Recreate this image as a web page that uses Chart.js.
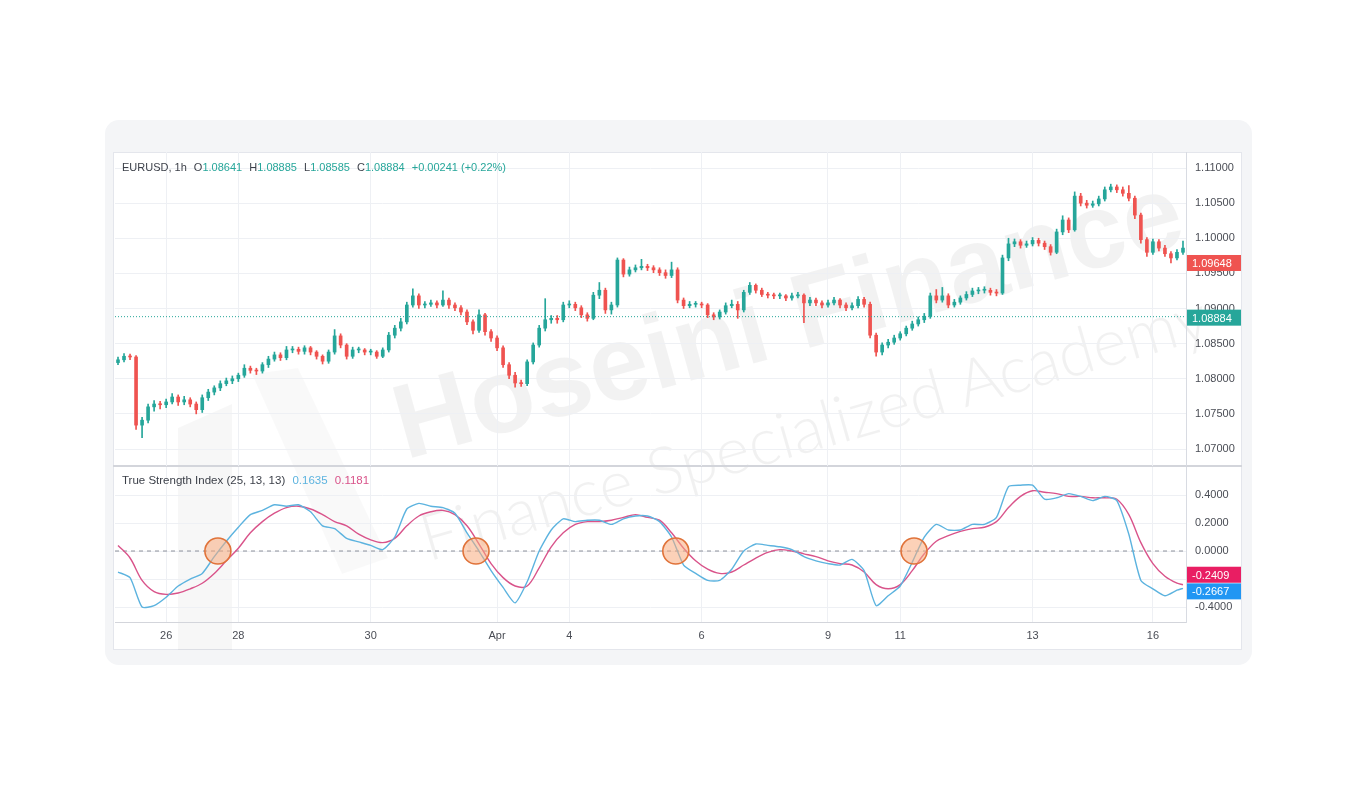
<!DOCTYPE html>
<html>
<head>
<meta charset="utf-8">
<script src="https://cdn.jsdelivr.net/npm/chart.js@4.4.0/dist/chart.umd.min.js"></script>
<style>
  body { margin:0; background:#fff; width:1357px; height:785px; position:relative; overflow:hidden;
         font-family:"Liberation Sans", Arial, sans-serif; }
  #frame { position:absolute; left:105px; top:120px; width:1147px; height:545px; background:#f4f5f7; border-radius:14px; }
  #panel { position:absolute; left:113px; top:152px; width:1129px; height:498px; background:#fff;
           border:1px solid #e4e6ec; box-sizing:border-box; }
  #wm { position:absolute; left:0; top:0; width:1357px; height:785px; pointer-events:none; }
  #wm div { position:absolute; white-space:nowrap; transform-origin:left bottom; }
  .wm1 { left:412px; top:362px; font-size:106px; font-weight:bold; color:rgba(0,0,0,0.05); transform:rotate(-15.5deg); }
  .wm2 { left:432px; top:497px; font-size:65px; font-family:Lato, "Open Sans", sans-serif; font-weight:300;
         color:rgba(0,0,0,0.055); transform:rotate(-16deg); }
  #logo { position:absolute; left:0; top:0; }
  .wrap { position:absolute; left:113px; width:1129px; }
  #priceWrap { top:152px; height:314px; }
  #tsiWrap { top:467px; height:183px; }
  #sep { position:absolute; left:113px; top:465px; width:1129px; height:2px; background:#d3d5db; }
  .legend { position:absolute; left:122px; color:#3b3f48; white-space:nowrap; }
  .legend .v { color:#26a69a; }
  .legend .gap { margin-left:4px; }
</style>
</head>
<body>
<div id="frame"></div>
<div id="panel"></div>
<div id="wm">
  <svg id="logo" width="1357" height="785">
    <path d="M178 428 L232 404 L232 650 L178 650 Z" fill="rgba(0,0,0,0.03)"/>
    <path d="M252 374 L298 368 L388 558 L342 574 Z" fill="rgba(0,0,0,0.025)"/>
  </svg>
  <div class="wm1">Hoseini Finance</div>
  <div class="wm2">Finance Specialized Academy</div>
</div>
<div id="sep"></div>
<div class="wrap" id="priceWrap"><canvas id="priceChart"></canvas></div>
<div class="wrap" id="tsiWrap"><canvas id="tsiChart"></canvas></div>
<div class="legend" style="top:161px; font-size:11px">EURUSD, 1h <span class="gap">O</span><span class="v">1.08641</span> <span class="gap">H</span><span class="v">1.08885</span> <span class="gap">L</span><span class="v">1.08585</span> <span class="gap">C</span><span class="v">1.08884</span> <span class="v gap">+0.00241 (+0.22%)</span></div>
<div class="legend" style="top:474px; font-size:11.5px">True Strength Index (25, 13, 13) <span class="gap" style="color:#5cb3df">0.1635</span> <span class="gap" style="color:#d9538a">0.1181</span></div>

<script>
// EURUSD 1h, one candle per slot
const firstOpen = 1.0823;
const closes = [
  1.0827,1.0832,1.0831,1.0734,1.0741,1.0760,1.0764,1.0763,1.0767,1.0774,
  1.0767,1.0770,1.0764,1.0756,1.0773,1.0781,1.0787,1.0793,1.0797,1.0800,
  1.0805,1.0815,1.0812,1.0811,1.0820,1.0828,1.0834,1.0830,1.0841,1.0842,
  1.0839,1.0844,1.0838,1.0832,1.0825,1.0838,1.0861,1.0848,1.0832,1.0841,
  1.0841,1.0838,1.0838,1.0832,1.0841,1.0862,1.0872,1.0881,1.0905,1.0918,
  1.0905,1.0906,1.0908,1.0905,1.0912,1.0905,1.0901,1.0895,1.0881,1.0869,
  1.0891,1.0867,1.0858,1.0844,1.0820,1.0805,1.0794,1.0793,1.0824,1.0848,
  1.0872,1.0884,1.0886,1.0884,1.0905,1.0906,1.0901,1.0891,1.0886,1.0919,
  1.0926,1.0898,1.0905,1.0969,1.0949,1.0955,1.0958,1.0960,1.0958,1.0955,
  1.0951,1.0947,1.0955,1.0912,1.0904,1.0906,1.0906,1.0905,1.0891,1.0888,
  1.0895,1.0904,1.0906,1.0898,1.0923,1.0933,1.0926,1.0920,1.0919,1.0918,
  1.0918,1.0915,1.0918,1.0919,1.0908,1.0912,1.0908,1.0905,1.0908,1.0912,
  1.0905,1.0901,1.0904,1.0913,1.0906,1.0862,1.0838,1.0848,1.0852,1.0858,
  1.0864,1.0872,1.0878,1.0884,1.0889,1.0918,1.0912,1.0918,1.0905,1.0909,
  1.0915,1.0920,1.0925,1.0926,1.0926,1.0923,1.0922,1.0972,1.0992,1.0995,
  1.0990,1.0992,1.0997,1.0993,1.0988,1.0980,1.1009,1.1026,1.1012,1.1060,
  1.1050,1.1047,1.1049,1.1056,1.1069,1.1073,1.1069,1.1064,1.1057,1.1033,
  1.0998,1.0980,1.0995,1.0986,1.0978,1.0972,1.0980,1.0986
];
const highs = [
  1.0831,1.0836,1.0835,1.0833,1.0745,1.0764,1.0769,1.0768,1.0771,1.0779,
  1.0777,1.0775,1.0773,1.0767,1.0777,1.0785,1.0790,1.0797,1.0801,1.0804,
  1.0808,1.0820,1.0818,1.0815,1.0823,1.0832,1.0838,1.0837,1.0846,1.0846,
  1.0845,1.0847,1.0846,1.0840,1.0834,1.0841,1.0870,1.0864,1.0850,1.0845,
  1.0845,1.0843,1.0842,1.0840,1.0844,1.0866,1.0876,1.0886,1.0909,1.0928,
  1.0921,1.0910,1.0912,1.0911,1.0925,1.0915,1.0908,1.0904,1.0898,1.0884,
  1.0898,1.0893,1.0870,1.0861,1.0847,1.0823,1.0809,1.0798,1.0827,1.0851,
  1.0876,1.0914,1.0890,1.0890,1.0909,1.0911,1.0909,1.0904,1.0894,1.0923,
  1.0937,1.0929,1.0909,1.0972,1.0971,1.0959,1.0962,1.0970,1.0963,1.0961,
  1.0958,1.0955,1.0966,1.0958,1.0915,1.0910,1.0910,1.0909,1.0907,1.0894,
  1.0898,1.0908,1.0912,1.0910,1.0926,1.0937,1.0935,1.0929,1.0923,1.0922,
  1.0922,1.0920,1.0922,1.0923,1.0921,1.0916,1.0915,1.0911,1.0912,1.0916,
  1.0914,1.0908,1.0908,1.0917,1.0916,1.0909,1.0865,1.0851,1.0856,1.0862,
  1.0867,1.0875,1.0882,1.0888,1.0893,1.0922,1.0927,1.0930,1.0921,1.0913,
  1.0918,1.0924,1.0929,1.0930,1.0931,1.0929,1.0927,1.0976,1.1000,1.0999,
  1.0998,1.0996,1.1001,1.1000,1.0996,1.0991,1.1013,1.1032,1.1029,1.1066,
  1.1064,1.1054,1.1053,1.1060,1.1073,1.1077,1.1076,1.1073,1.1075,1.1060,
  1.1036,1.1001,1.0999,1.0998,1.0990,1.0981,1.0984,1.0996
];
const lows = [
  1.0820,1.0824,1.0827,1.0728,1.0716,1.0737,1.0754,1.0757,1.0759,1.0764,
  1.0762,1.0763,1.0760,1.0750,1.0752,1.0769,1.0777,1.0783,1.0790,1.0793,
  1.0796,1.0802,1.0808,1.0806,1.0808,1.0816,1.0825,1.0826,1.0827,1.0837,
  1.0835,1.0835,1.0834,1.0828,1.0821,1.0822,1.0835,1.0844,1.0828,1.0829,
  1.0837,1.0834,1.0834,1.0829,1.0830,1.0838,1.0858,1.0868,1.0878,1.0902,
  1.0900,1.0901,1.0903,1.0901,1.0903,1.0900,1.0897,1.0891,1.0877,1.0864,
  1.0866,1.0862,1.0853,1.0840,1.0816,1.0800,1.0788,1.0789,1.0790,1.0821,
  1.0845,1.0868,1.0879,1.0879,1.0881,1.0901,1.0897,1.0887,1.0882,1.0884,
  1.0914,1.0893,1.0892,1.0902,1.0945,1.0946,1.0952,1.0955,1.0954,1.0951,
  1.0947,1.0943,1.0944,1.0908,1.0900,1.0901,1.0902,1.0901,1.0887,1.0884,
  1.0885,1.0892,1.0901,1.0886,1.0895,1.0920,1.0922,1.0917,1.0915,1.0914,
  1.0914,1.0911,1.0912,1.0915,1.0880,1.0904,1.0904,1.0901,1.0902,1.0905,
  1.0901,1.0897,1.0898,1.0901,1.0902,1.0858,1.0832,1.0834,1.0844,1.0849,
  1.0855,1.0861,1.0869,1.0875,1.0880,1.0886,1.0908,1.0909,1.0901,1.0902,
  1.0906,1.0912,1.0917,1.0921,1.0922,1.0919,1.0918,1.0920,1.0968,1.0988,
  1.0986,1.0987,1.0989,1.0989,1.0984,1.0976,1.0978,1.1005,1.1008,1.1010,
  1.1046,1.1043,1.1044,1.1046,1.1053,1.1066,1.1065,1.1060,1.1053,1.1028,
  1.0993,1.0974,1.0977,1.0982,1.0974,1.0965,1.0969,1.0977
];

// day labels on the time axis (candle slot where each day starts)
const dayTicks  = [8, 20, 42, 63, 75, 97, 118, 130, 152, 172];
const dayLabels = ['26', '28', '30', 'Apr', '4', '6', '9', '11', '13', '16'];
const priceTicks = [1.07, 1.075, 1.08, 1.085, 1.09, 1.095, 1.10, 1.105, 1.11];
const tsiTicks = [-0.4, -0.2, 0, 0.2, 0.4];

// True Strength Index (25,13,13), one reading every second candle, last one at the final candle
const tsiLine = [
  -0.15,-0.19,-0.40,-0.39,-0.33,-0.25,-0.20,-0.16,-0.04,0.07,
  0.17,0.26,0.29,0.33,0.32,0.33,0.28,0.18,0.16,0.09,
  0.065,0.04,0.01,0.10,0.30,0.34,0.32,0.31,0.27,0.13,
  0.00,-0.14,-0.26,-0.37,-0.22,0.00,0.15,0.23,0.21,0.22,
  0.22,0.19,0.23,0.25,0.25,0.21,0.10,-0.10,-0.16,-0.21,
  -0.21,-0.13,0.00,0.05,0.04,0.03,0.01,-0.04,-0.07,-0.09,
  -0.10,-0.06,-0.14,-0.39,-0.32,-0.25,-0.08,0.10,0.19,0.15,
  0.15,0.19,0.19,0.24,0.46,0.47,0.47,0.37,0.38,0.41,
  0.39,0.36,0.39,0.36,0.12,-0.21,-0.27,-0.32,-0.28,-0.2667
];
const tsiSignal = [
  0.04,-0.05,-0.21,-0.29,-0.31,-0.30,-0.27,-0.23,-0.16,-0.07,
  0.02,0.13,0.21,0.27,0.31,0.32,0.30,0.26,0.21,0.18,
  0.12,0.08,0.06,0.09,0.18,0.25,0.28,0.29,0.26,0.18,
  0.05,-0.09,-0.19,-0.25,-0.25,-0.12,0.03,0.13,0.19,0.21,
  0.21,0.22,0.24,0.26,0.24,0.22,0.13,0.02,-0.07,-0.13,
  -0.16,-0.15,-0.10,-0.05,-0.01,0.01,0.00,-0.02,-0.04,-0.07,
  -0.09,-0.10,-0.15,-0.24,-0.27,-0.24,-0.14,-0.02,0.07,0.11,
  0.14,0.16,0.17,0.21,0.31,0.39,0.43,0.42,0.41,0.39,
  0.39,0.38,0.38,0.37,0.26,0.06,-0.09,-0.18,-0.23,-0.2409
];
// zero-line crossings marked with circles (candle slot)
const crossX = [16.6, 59.5, 92.7, 132.3];

const lastPrice = 1.09648;
const markPrice = 1.08884;

const upColor = '#26a69a';
const downColor = '#ef5350';
const FONT = '"Liberation Sans", Arial, sans-serif';
const gridColor = '#eef0f4';
const lastSlot = closes.length - 1;

const opens = closes.map((c, i) => i === 0 ? firstOpen : closes[i - 1]);
const candleColors = closes.map((c, i) => c >= opens[i] ? upColor : downColor);
const tsiSlots = tsiLine.map((v, k) => Math.min(k * 2, lastSlot));

function tagPlugin(id, tags) {
  return {
    id: id,
    afterDraw(chart) {
      const { ctx, chartArea, scales } = chart;
      ctx.save();
      ctx.font = '11px ' + FONT;
      ctx.textBaseline = 'middle';
      tags.forEach(t => {
        const y = scales.y.getPixelForValue(t.value) + (t.dy || 0);
        ctx.fillStyle = t.color;
        ctx.fillRect(chartArea.right + 1, y - 8, 54, 16);
        ctx.fillStyle = '#fff';
        ctx.fillText(t.text, chartArea.right + 6, y + 1);
      });
      ctx.restore();
    }
  };
}

// keep the plot area edge to edge: no label overhang padding
const noPad = s => { s.paddingTop = 0; s.paddingBottom = 0; s.paddingLeft = 0; s.paddingRight = 0; };

const xBase = {
  type: 'linear',
  min: -0.5,
  max: lastSlot + 0.5,
  offset: false,
  afterBuildTicks: s => { s.ticks = dayTicks.map(v => ({ value: v })); },
  grid: { color: gridColor, drawTicks: false, offset: false },
};

const yBase = {
  position: 'right',
  grid: { color: gridColor, drawTicks: false },
  border: { color: '#d8dbe2' },
  afterFit: s => { s.width = 56; noPad(s); }
};

const baseOptions = {
  responsive: true,
  maintainAspectRatio: false,
  animation: false,
  layout: { autoPadding: false, padding: { left: 2, right: 0, top: 0, bottom: 0 } },
  plugins: { legend: { display: false }, tooltip: { enabled: false } },
};

new Chart(document.getElementById('priceChart'), {
  type: 'bar',
  data: {
    datasets: [
      {
        label: 'wick',
        data: closes.map((c, i) => ({ x: i, y: [lows[i], highs[i]] })),
        backgroundColor: candleColors,
        barThickness: 1,
        grouped: false,
        order: 2
      },
      {
        label: 'body',
        data: closes.map((c, i) => ({ x: i, y: [opens[i], c] })),
        backgroundColor: candleColors,
        barThickness: 3,
        minBarLength: 1,
        grouped: false,
        order: 1
      },
      {
        type: 'line',
        label: 'mark',
        data: [{ x: -0.5, y: markPrice }, { x: lastSlot + 0.5, y: markPrice }],
        borderColor: upColor,
        borderWidth: 1,
        borderDash: [1, 2],
        pointRadius: 0,
        order: 0
      }
    ]
  },
  options: {
    ...baseOptions,
    scales: {
      x: {
        ...xBase,
        ticks: { display: false },
        border: { display: false },
        afterFit: s => { s.height = 0; noPad(s); }
      },
      y: {
        ...yBase,
        min: 1.06758,
        max: 1.11228,
        afterBuildTicks: s => { s.ticks = priceTicks.map(v => ({ value: v })); },
        ticks: { callback: v => v.toFixed(5), color: '#4a4d55', font: { size: 11, family: FONT }, padding: 9 }
      }
    }
  },
  plugins: [tagPlugin('priceTags', [
    { value: lastPrice, text: lastPrice.toFixed(5), color: downColor },
    { value: markPrice, text: markPrice.toFixed(5), color: upColor, dy: 1 }
  ])]
});

new Chart(document.getElementById('tsiChart'), {
  type: 'line',
  data: {
    datasets: [
      {
        label: 'zero',
        data: [{ x: -0.5, y: 0 }, { x: lastSlot + 0.5, y: 0 }],
        borderColor: '#8d919b',
        borderWidth: 1,
        borderDash: [4, 4],
        pointRadius: 0,
        order: 3
      },
      {
        label: 'signal',
        data: tsiSlots.map((x, k) => ({ x: x, y: tsiSignal[k] })),
        borderColor: '#d9538a',
        borderWidth: 1.4,
        pointRadius: 0,
        tension: 0.35,
        order: 2
      },
      {
        label: 'TSI',
        data: tsiSlots.map((x, k) => ({ x: x, y: tsiLine[k] })),
        borderColor: '#5cb3df',
        borderWidth: 1.4,
        pointRadius: 0,
        tension: 0.2,
        order: 1
      },
      {
        type: 'scatter',
        label: 'cross',
        data: crossX.map(x => ({ x: x, y: 0 })),
        pointRadius: 13,
        pointBackgroundColor: 'rgba(250,172,125,0.55)',
        pointBorderColor: '#e0733a',
        pointBorderWidth: 1.6,
        order: 0
      }
    ]
  },
  options: {
    ...baseOptions,
    scales: {
      x: {
        ...xBase,
        ticks: {
          autoSkip: false,
          maxRotation: 0,
          callback: (v, i) => dayLabels[i],
          color: '#4a4d55',
          font: { size: 11, family: FONT },
          padding: 7
        },
        border: { color: '#d3d5db', width: 1 },
        afterFit: s => { s.height = 28; noPad(s); }
      },
      y: {
        ...yBase,
        min: -0.507,
        max: 0.6,
        afterBuildTicks: s => { s.ticks = tsiTicks.map(v => ({ value: v })); },
        ticks: { callback: v => v.toFixed(4), color: '#4a4d55', font: { size: 11, family: FONT }, padding: 9 }
      }
    }
  },
  plugins: [tagPlugin('tsiTags', [
    { value: tsiSignal[tsiSignal.length - 1], text: tsiSignal[tsiSignal.length - 1].toFixed(4), color: '#e91e63', dy: -10 },
    { value: tsiLine[tsiLine.length - 1], text: tsiLine[tsiLine.length - 1].toFixed(4), color: '#2196f3', dy: 3 }
  ])]
});
</script>
</body>
</html>
